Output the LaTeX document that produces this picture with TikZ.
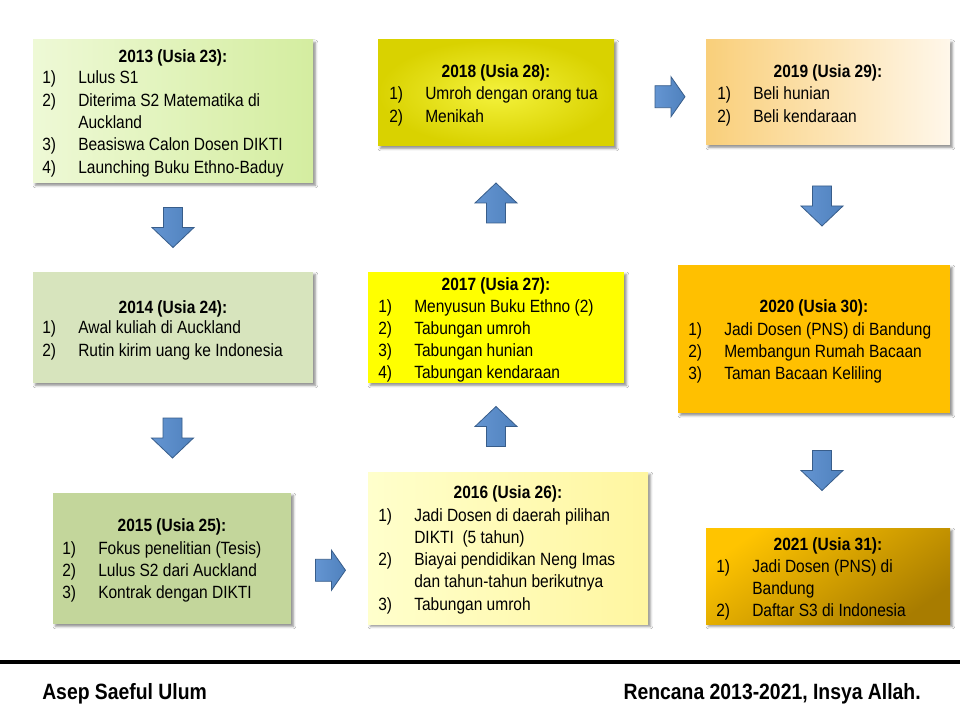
\documentclass[tikz,border=0pt]{standalone}
\usepackage{fontspec}
\setmainfont[FakeStretch=0.875]{Liberation Sans}
\usetikzlibrary{shadows.blur,calc}
\definecolor{g13a}{HTML}{EEF9D6}
\definecolor{g13b}{HTML}{D4EDA0}
\definecolor{c14}{HTML}{D7E4BD}
\definecolor{c15}{HTML}{C3D69B}
\definecolor{y16a}{HTML}{FFFFCC}
\definecolor{y16b}{HTML}{FFF6A0}
\definecolor{c17}{HTML}{FFFF00}
\definecolor{y18in}{HTML}{F4F23C}
\definecolor{y18out}{HTML}{D9D200}
\definecolor{o19a}{HTML}{F9CF7A}
\definecolor{o19b}{HTML}{FFF7EA}
\definecolor{c20}{HTML}{FFC000}
\definecolor{o21a}{HTML}{FFC400}
\definecolor{o21b}{HTML}{A87C00}
\definecolor{arrowblue}{HTML}{4F81BD}
\definecolor{arrowlight}{HTML}{6495D2}
\definecolor{arrowedge}{HTML}{385D8A}
\newcommand\itm[2]{\makebox[27pt][l]{#1}#2\par}
\newcommand\boxlist[1]{\parbox[t]{230pt}{\fontsize{13.3}{16.7}\selectfont #1}}
\tikzset{
  yearbox/.style={rectangle, inner sep=0pt, draw=none,
    blur shadow={shadow xshift=1.8pt, shadow yshift=-1.8pt, shadow blur radius=1.8pt, shadow opacity=45}},
  yeartitle/.style={anchor=base, inner sep=0pt, font=\fontsize{13.3}{16.7}\selectfont\bfseries},
  yearlist/.style={anchor=base west, inner sep=0pt, align=left},
  barrow/.style={left color=arrowlight, right color=arrowblue, draw=arrowedge, line width=0.6pt},
  pics/dnarrow/.style={code={\path[barrow] (-9.5,-20) -- (9.5,-20) -- (9.5,0) -- (21,0) -- (0,20) -- (-21,0) -- (-9.5,0) -- cycle;}},
  pics/rtarrow/.style={code={\path[barrow] (-15,-11) -- (1,-11) -- (1,-20) -- (15,0) -- (1,20) -- (1,11) -- (-15,11) -- cycle;}},
  footer/.style={inner sep=0pt, font=\fontsize{16.6}{20}\selectfont\bfseries}
}
\begin{document}
\begin{tikzpicture}[x=0.75pt,y=-0.75pt]
\useasboundingbox (0,0) rectangle (960,720);
\fill[white] (0,0) rectangle (960,720);

% boxes
\node[yearbox, left color=g13a, right color=g13b, minimum width=210pt, minimum height=107.25pt] (b13) at (173,111.5) {};
\node[yearbox, fill=c14, minimum width=210pt, minimum height=83.25pt] (b14) at (173,327.5) {};
\node[yearbox, fill=c15, minimum width=178.5pt, minimum height=98.25pt] (b15) at (172,558.5) {};
\node[yearbox, left color=y16a, right color=y16b, minimum width=210pt, minimum height=114pt] (b16) at (508,548) {};
\node[yearbox, fill=c17, minimum width=192pt, minimum height=83.25pt] (b17) at (496,327.5) {};
\node[yearbox, inner color=y18in, outer color=y18out, minimum width=177pt, minimum height=79.5pt] (b18) at (496,93) {};
\node[yearbox, left color=o19a, right color=o19b, minimum width=183pt, minimum height=78.75pt] (b19) at (828,92.5) {};
\node[yearbox, fill=c20, minimum width=204pt, minimum height=111pt] (b20) at (814,339) {};
\node[yearbox, top color=o21a, bottom color=o21b, shading angle=35, minimum width=183pt, minimum height=72pt] (b21) at (828,576) {};

% titles
\node[yeartitle] (h13) at (173,63) {2013 (Usia 23):};
\node[yeartitle] (h14) at (173,314) {2014 (Usia 24):};
\node[yeartitle] (h15) at (172,531) {2015 (Usia 25):};
\node[yeartitle] (h16) at (508,498) {2016 (Usia 26):};
\node[yeartitle] (h17) at (496,291) {2017 (Usia 27):};
\node[yeartitle] (h18) at (496,78) {2018 (Usia 28):};
\node[yeartitle] (h19) at (828,78) {2019 (Usia 29):};
\node[yeartitle] (h20) at (814,312) {2020 (Usia 30):};
\node[yeartitle] (h21) at (828,550) {2021 (Usia 31):};

% lists
\node[yearlist] (l13) at (42,84) {\boxlist{\itm{1)}{Lulus S1}\itm{2)}{Diterima S2 Matematika di}\itm{}{Auckland}\itm{3)}{Beasiswa Calon Dosen DIKTI}\itm{4)}{Launching Buku Ethno-Baduy}}};
\node[yearlist] (l14) at (42,334) {\boxlist{\itm{1)}{Awal kuliah di Auckland}\itm{2)}{Rutin kirim uang ke Indonesia}}};
\node[yearlist] (l15) at (62,554) {\boxlist{\itm{1)}{Fokus penelitian (Tesis)}\itm{2)}{Lulus S2 dari Auckland}\itm{3)}{Kontrak dengan DIKTI}}};
\node[yearlist] (l16) at (378,521) {\boxlist{\itm{1)}{Jadi Dosen di daerah pilihan}\itm{}{DIKTI\ \ (5 tahun)}\itm{2)}{Biayai\ pendidikan Neng Imas}\itm{}{dan tahun-tahun berikutnya}\itm{3)}{Tabungan umroh}}};
\node[yearlist] (l17) at (378,312) {\boxlist{\itm{1)}{Menyusun Buku Ethno (2)}\itm{2)}{Tabungan umroh}\itm{3)}{Tabungan hunian}\itm{4)}{Tabungan kendaraan}}};
\node[yearlist] (l18) at (389,100) {\boxlist{\itm{1)}{Umroh dengan orang tua}\itm{2)}{Menikah}}};
\node[yearlist] (l19) at (717,100) {\boxlist{\itm{1)}{Beli hunian}\itm{2)}{Beli kendaraan}}};
\node[yearlist] (l20) at (688,335) {\boxlist{\itm{1)}{Jadi Dosen (PNS)\ di Bandung}\itm{2)}{Membangun Rumah Bacaan}\itm{3)}{Taman Bacaan Keliling}}};
\node[yearlist] (l21) at (716,572) {\boxlist{\itm{1)}{Jadi Dosen (PNS) di}\itm{}{Bandung}\itm{2)}{Daftar\ S3 di Indonesia}}};

% block arrows between boxes
\pic at ($(b13.south)!0.5!(b14.north)$) {dnarrow};
\pic at ($(b14.south)!0.5!(b15.north)$) {dnarrow};
\pic at ($(b15.east)!0.5!(b16.west)+(1,17)$) {rtarrow};
\pic[rotate=180] at ($(b17.south)!0.5!(b16.north)+(-6,-1)$) {dnarrow};
\pic[rotate=180] at ($(b18.south)!0.5!(b17.north)+(0,-6)$) {dnarrow};
\pic at ($(b18.east)!0.5!(b19.west)+(10,4)$) {rtarrow};
\pic at ($(b19.south)!0.5!(b20.north)+(1,1)$) {dnarrow};
\pic at ($(b20.south)!0.5!(b21.north)+(1,0)$) {dnarrow};

% footer
\draw[line width=2.7pt] (0,662) -- (960,662);
\node[footer, anchor=base west] (author) at (42,699) {Asep Saeful Ulum};
\node[footer, anchor=base east] (plan) at (921,699) {Rencana 2013-2021, Insya Allah.};
\end{tikzpicture}
\end{document}
